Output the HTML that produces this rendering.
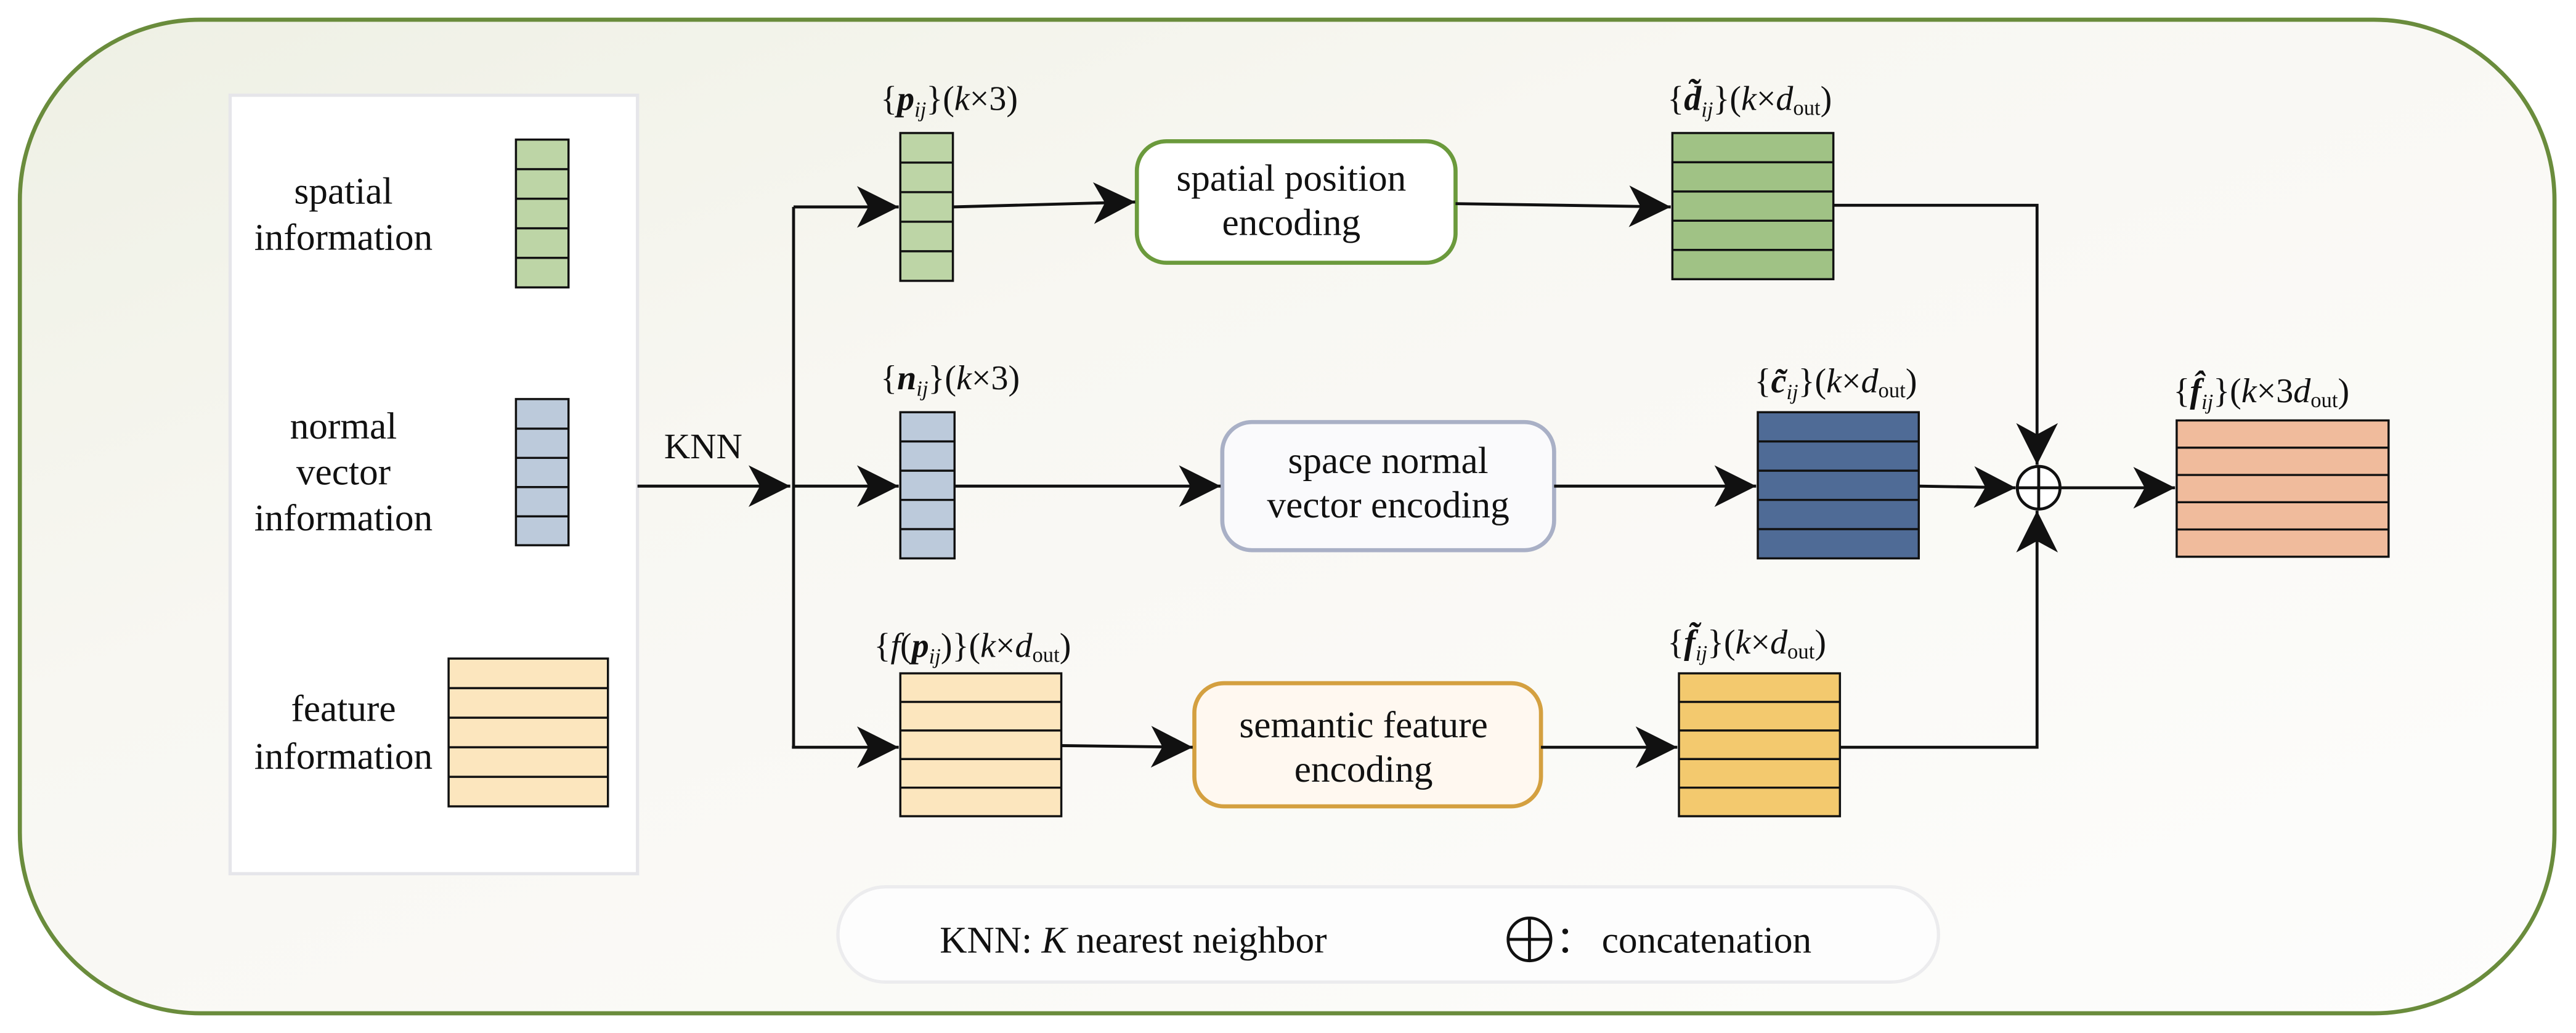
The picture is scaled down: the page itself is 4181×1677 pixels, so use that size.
<!DOCTYPE html>
<html><head><meta charset="utf-8"><style>
html,body{margin:0;padding:0;background:#fff}
svg{display:block}
svg text, svg tspan{font-family:"Liberation Serif","DejaVu Serif",serif}
</style></head><body>
<svg width="4181" height="1677" viewBox="0 0 1568 629" xmlns="http://www.w3.org/2000/svg" font-family="Liberation Serif, DejaVu Serif, serif" fill="#111">
<defs>
<linearGradient id="bg" x1="0" y1="0" x2="1" y2="1">
<stop offset="0" stop-color="#eef0e4"/><stop offset="0.35" stop-color="#f8f7f2"/><stop offset="1" stop-color="#fdfdfc"/>
</linearGradient>
<marker id="ar" markerUnits="userSpaceOnUse" markerWidth="30" markerHeight="30" viewBox="-24 -12 26 24" refX="0" refY="0" orient="auto">
<path d="M0,0 L-22,-11 L-16,0 L-22,11 Z" fill="#111"/>
</marker>
</defs>
<rect width="1568" height="629" fill="#fff"/>
<rect x="12" y="12" width="1543" height="605" rx="110" fill="url(#bg)" stroke="#6a8c3c" stroke-width="2.5"/>
<rect x="140" y="58" width="248" height="474" fill="#fff" stroke="#e6e6ea" stroke-width="2"/>

<g font-size="23" text-anchor="middle">
<text x="209" y="124">spatial</text><text x="209" y="152">information</text>
<text x="209" y="267">normal</text><text x="209" y="295">vector</text><text x="209" y="323">information</text>
<text x="209" y="439">feature</text><text x="209" y="468">information</text>
</g>

<g stroke="#111" stroke-width="1.3">
<rect x="314" y="85" width="32" height="90" fill="#bdd5a6"/>
<path d="M314 103H346M314 121H346M314 139H346M314 157H346"/>
<rect x="314" y="243" width="32" height="89" fill="#bccadb"/>
<path d="M314 261H346M314 278.8H346M314 296.6H346M314 314.4H346"/>
<rect x="273" y="401" width="97" height="90" fill="#fce6be"/>
<path d="M273 419H370M273 437H370M273 455H370M273 473H370"/>
<rect x="548" y="81" width="32" height="90" fill="#bdd5a6"/>
<path d="M548 99H580M548 117H580M548 135H580M548 153H580"/>
<rect x="548" y="251" width="33" height="89" fill="#bccadb"/>
<path d="M548 268.8H581M548 286.6H581M548 304.4H581M548 322.2H581"/>
<rect x="548" y="410" width="98" height="87" fill="#fce6be"/>
<path d="M548 427.4H646M548 444.8H646M548 462.2H646M548 479.6H646"/>
<rect x="1018" y="81" width="98" height="89" fill="#a0c285"/>
<path d="M1018 98.8H1116M1018 116.6H1116M1018 134.4H1116M1018 152.2H1116"/>
<rect x="1070" y="251" width="98" height="89" fill="#4f6b96"/>
<path d="M1070 268.8H1168M1070 286.6H1168M1070 304.4H1168M1070 322.2H1168"/>
<rect x="1022" y="410" width="98" height="87" fill="#f3c96e"/>
<path d="M1022 427.4H1120M1022 444.8H1120M1022 462.2H1120M1022 479.6H1120"/>
<rect x="1325" y="256" width="129" height="83" fill="#f0bb9c"/>
<path d="M1325 272.6H1454M1325 289.2H1454M1325 305.8H1454M1325 322.4H1454"/>
</g>

<rect x="692" y="86" width="194" height="74" rx="18" fill="#fff" stroke="#6b9a3c" stroke-width="2.5"/>
<rect x="744" y="257" width="202" height="78" rx="18" fill="#fafafc" stroke="#a9b0c6" stroke-width="2.5"/>
<rect x="727" y="416" width="211" height="75" rx="18" fill="#fff8f0" stroke="#d4a040" stroke-width="2.5"/>
<g font-size="23" text-anchor="middle">
<text x="786" y="116">spatial position</text><text x="786" y="143">encoding</text>
<text x="845" y="288">space normal</text><text x="845" y="315">vector encoding</text>
<text x="830" y="449">semantic feature</text><text x="830" y="476">encoding</text>
</g>

<g stroke="#111" stroke-width="1.8" fill="none">
<path d="M388 296H481" marker-end="url(#ar)"/>
<path d="M483 126V455"/>
<path d="M483 126H547" marker-end="url(#ar)"/>
<path d="M483 296H547" marker-end="url(#ar)"/>
<path d="M482 455H547" marker-end="url(#ar)"/>
<path d="M580 126L691 123" marker-end="url(#ar)"/>
<path d="M886 124L1017 126" marker-end="url(#ar)"/>
<path d="M581 296H743" marker-end="url(#ar)"/>
<path d="M946 296H1069" marker-end="url(#ar)"/>
<path d="M646 454L726 455" marker-end="url(#ar)"/>
<path d="M938 455H1021" marker-end="url(#ar)"/>
<path d="M1116 125H1240V283" marker-end="url(#ar)"/>
<path d="M1120 455H1240V311" marker-end="url(#ar)"/>
<path d="M1168 296L1227 297" marker-end="url(#ar)"/>
<path d="M1254 297H1324" marker-end="url(#ar)"/>
<circle cx="1241" cy="297" r="13" fill="#fff"/>
<path d="M1228 297H1254M1241 284V310"/>
</g>

<g font-size="21">
<text x="536" y="67">{<tspan font-weight="bold" font-style="italic">p</tspan><tspan font-size="13" font-style="italic" dy="4">ij</tspan><tspan dy="-4">}(</tspan><tspan font-style="italic">k</tspan>×3)</text>
<text x="536" y="237">{<tspan font-weight="bold" font-style="italic">n</tspan><tspan font-size="13" font-style="italic" dy="4">ij</tspan><tspan dy="-4">}(</tspan><tspan font-style="italic">k</tspan>×3)</text>
<text x="532" y="400">{<tspan font-style="italic">f</tspan>(<tspan font-weight="bold" font-style="italic">p</tspan><tspan font-size="13" font-style="italic" dy="4">ij</tspan><tspan dy="-4">)}(</tspan><tspan font-style="italic">k</tspan>×<tspan font-style="italic">d</tspan><tspan font-size="13" dy="3">out</tspan><tspan dy="-3">)</tspan></text>
<text x="1015" y="67">{<tspan font-weight="bold" font-style="italic">d̃</tspan><tspan font-size="13" font-style="italic" dy="4">ij</tspan><tspan dy="-4">}(</tspan><tspan font-style="italic">k</tspan>×<tspan font-style="italic">d</tspan><tspan font-size="13" dy="3">out</tspan><tspan dy="-3">)</tspan></text>
<text x="1068" y="239">{<tspan font-weight="bold" font-style="italic">c̃</tspan><tspan font-size="13" font-style="italic" dy="4">ij</tspan><tspan dy="-4">}(</tspan><tspan font-style="italic">k</tspan>×<tspan font-style="italic">d</tspan><tspan font-size="13" dy="3">out</tspan><tspan dy="-3">)</tspan></text>
<text x="1015" y="398">{<tspan font-weight="bold" font-style="italic">f̃</tspan><tspan font-size="13" font-style="italic" dy="4">ij</tspan><tspan dy="-4">}(</tspan><tspan font-style="italic">k</tspan>×<tspan font-style="italic">d</tspan><tspan font-size="13" dy="3">out</tspan><tspan dy="-3">)</tspan></text>
<text x="1323" y="245">{<tspan font-weight="bold" font-style="italic">f̂</tspan><tspan font-size="13" font-style="italic" dy="4">ij</tspan><tspan dy="-4">}(</tspan><tspan font-style="italic">k</tspan>×3<tspan font-style="italic">d</tspan><tspan font-size="13" dy="3">out</tspan><tspan dy="-3">)</tspan></text>
</g>
<text x="428" y="279" font-size="22" text-anchor="middle">KNN</text>

<rect x="510" y="540" width="670" height="58" rx="29" fill="#fdfdfd" stroke="#ececee" stroke-width="2"/>
<text x="572" y="580" font-size="23">KNN: <tspan font-style="italic">K</tspan> nearest neighbor</text>
<g stroke="#111" stroke-width="1.8" fill="none">
<circle cx="931" cy="572" r="13"/><path d="M918 572H944M931 559V585"/>
</g>
<text x="947" y="580" font-size="23">：</text>
<text x="975" y="580" font-size="23">concatenation</text>
</svg>
</body></html>
